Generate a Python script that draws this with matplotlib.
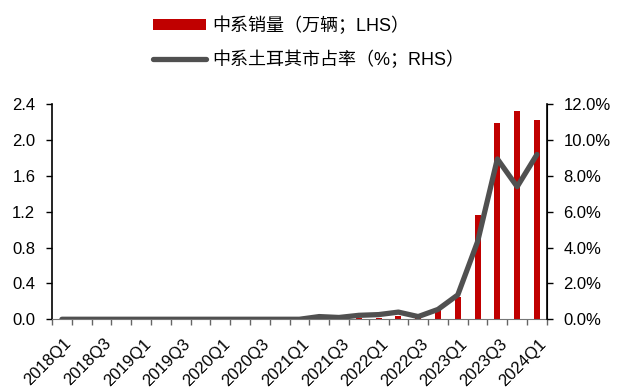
import matplotlib.pyplot as plt
import numpy as np
from matplotlib.ticker import FuncFormatter
from matplotlib.transforms import ScaledTranslation

plt.rcParams['font.family'] = ['Liberation Sans', 'Noto Sans CJK SC', 'DejaVu Sans']

quarters = [f"{y}Q{q}" for y in range(2018, 2025) for q in range(1, 5)][:25]

# 中系销量（万辆）
sales = [0, 0, 0, 0, 0, 0, 0, 0, 0, 0, 0, 0,
         0, 0.005, 0.003, 0.01, 0.01, 0.04, 0.01, 0.10,
         0.245, 1.16, 2.19, 2.32, 2.23]
# 中系土耳其市占率（%）
share = [0, 0, 0, 0, 0, 0, 0, 0, 0, 0, 0, 0,
         0.0, 0.15, 0.10, 0.22, 0.26, 0.40, 0.15, 0.55,
         1.36, 4.33, 8.95, 7.40, 9.20]

bar_color = '#C00000'
line_color = '#505050'
fs = 12

fig = plt.figure(figsize=(6.17, 3.87), dpi=100)
ax = fig.add_axes([0.0843, 0.175, 0.802, 0.5555])
ax2 = ax.twinx()

x = np.arange(len(quarters))
b = ax.bar(x, sales, width=0.3, color=bar_color, label='中系销量（万辆；LHS）', zorder=2)
l, = ax2.plot(x, share, color=line_color, lw=3.8, solid_capstyle='round',
              solid_joinstyle='round', label='中系土耳其市占率（%；RHS）', zorder=3)

ax.set_xlim(-0.5, len(quarters) - 0.5)
ax.set_ylim(0, 2.4)
ax.set_yticks(np.arange(0, 2.41, 0.4))
ax.yaxis.set_major_formatter(FuncFormatter(lambda v, p: f"{v:.1f}"))
ax2.set_ylim(0, 12)
ax2.set_yticks(np.arange(0, 12.1, 2))
ax2.yaxis.set_major_formatter(FuncFormatter(lambda v, p: f"{v:.1f}%"))

ax.set_xticks(x[::2])
ax.set_xticklabels(quarters[::2], rotation=45, ha='right', rotation_mode='anchor')
ax.set_xticks(np.arange(-0.5, len(quarters)), minor=True)
ax.tick_params(axis='x', which='major', length=0, pad=12, labelsize=fs)
ax.tick_params(axis='x', which='minor', length=4, width=1, color='#666666')
ax.tick_params(axis='y', length=4, width=1, labelsize=fs, pad=8)
ax2.tick_params(axis='y', length=4, width=1, labelsize=fs, pad=8)

shift = ScaledTranslation(2 / 100, 0, fig.dpi_scale_trans)
for lab in ax.get_xticklabels():
    lab.set_transform(lab.get_transform() + shift)

for a in (ax, ax2):
    a.spines['top'].set_visible(False)
ax.spines['bottom'].set_color('#777777')
ax.spines['left'].set_linewidth(1.2)
ax2.spines['right'].set_linewidth(1.2)
ax2.spines['left'].set_visible(False)
ax2.spines['bottom'].set_visible(False)

ax.set_zorder(ax2.get_zorder() - 1)
ax2.patch.set_visible(False)

fig.legend(handles=[b, l], loc='upper left', bbox_to_anchor=(0.222, 1.0),
           frameon=False, fontsize=13, handlelength=2.9, handleheight=0.55,
           handletextpad=0.35, labelspacing=0.85)

fig.savefig('out.png', dpi=100)
